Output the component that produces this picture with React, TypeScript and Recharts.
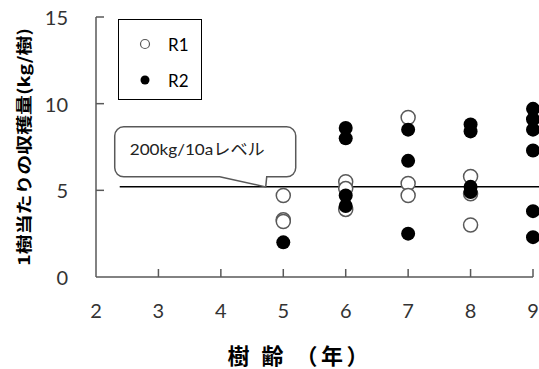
import React from "react";
import {
  ScatterChart,
  Scatter,
  XAxis,
  YAxis,
  ReferenceLine,
  Legend,
} from "recharts";

// tree age (years) and yield per tree (kg/tree)
const xTicks = [2, 3, 4, 5, 6, 7, 8, 9];
const yTicks = [0, 5, 10, 15];

const r1Age = [5, 5, 5, 6, 6, 6, 7, 7, 7, 8, 8, 8];
const r1Yield = [4.7, 3.3, 3.2, 5.5, 5.1, 3.9, 9.2, 5.4, 4.7, 5.8, 4.8, 3.0];

const r2Age = [5, 6, 6, 6, 6, 7, 7, 7, 8, 8, 8, 8, 9, 9, 9, 9, 9, 9];
const r2Yield = [2.0, 8.6, 8.0, 4.7, 4.1, 8.5, 6.7, 2.5, 8.8, 8.4, 5.2, 4.9, 9.7, 9.1, 8.5, 7.3, 3.8, 2.3];

const levelY = 5.2;
const levelStart = 2.38;
const levelEnd = 9.1;
const levelText = "200kg/10aレベル";

const r1Data = r1Age.map((x, i) => ({ x, y: r1Yield[i] }));
const r2Data = r2Age.map((x, i) => ({ x, y: r2Yield[i] }));

const AXIS = "#595959";
const LATIN = "Lato, 'Noto Sans CJK JP', sans-serif";
const CJK = "'Noto Sans CJK JP', sans-serif";

const XTick = (props: any) => {
  const { x, y, payload } = props;
  return (
    <g>
      {payload.value !== 2 && <line x1={x} x2={x} y1={y} y2={y - 8} stroke={AXIS} strokeWidth={1.5} />}
      <text x={x} y={y + 33} textAnchor="middle" dominantBaseline="central" fontSize={20} fontFamily={LATIN} fill="#333">
        {payload.value}
      </text>
    </g>
  );
};

const YTick = (props: any) => {
  const { x, y, payload } = props;
  return (
    <g>
      {payload.value !== 0 && <line x1={x} x2={x + 8} y1={y} y2={y} stroke={AXIS} strokeWidth={1.5} />}
      <text x={x - 28} y={y} textAnchor="end" dominantBaseline="central" fontSize={20} fontFamily={LATIN} fill="#333">
        {payload.value}
      </text>
    </g>
  );
};

const YTitle = (props: any) => {
  const { viewBox } = props;
  const cx = viewBox.x + 23;
  const cy = viewBox.y + viewBox.height / 2;
  return (
    <text
      x={cx}
      y={cy}
      transform={`rotate(-90 ${cx} ${cy})`}
      textAnchor="middle"
      dominantBaseline="central"
      fontSize={16}
      fontWeight="bold"
      fontFamily={CJK}
      fill="#000"
      textLength={238}
      lengthAdjust="spacingAndGlyphs"
    >
      1樹当たりの収穫量(kg/樹)
    </text>
  );
};

const XTitle = (props: any) => {
  const { viewBox } = props;
  return (
    <text
      x={viewBox.x + viewBox.width / 2 - 87}
      y={viewBox.y + 77}
      textAnchor="start"
      dominantBaseline="central"
      fontSize={22}
      fontWeight="bold"
      fontFamily={CJK}
      fill="#000"
      textLength={141}
      lengthAdjust="spacing"
    >
      樹 齢 （年）
    </text>
  );
};

const Callout = (props: any) => {
  const { viewBox } = props;
  const lx = viewBox.x;
  const ly = viewBox.y;
  const left = lx - 5;
  const right = lx + 176;
  const top = ly - 60;
  const bottom = ly - 10;
  const r = 9;
  const d = [
    `M${left + r},${top}`,
    `H${right - r}`,
    `A${r},${r} 0 0 1 ${right},${top + r}`,
    `V${bottom - r}`,
    `A${r},${r} 0 0 1 ${right - r},${bottom}`,
    `H${lx + 147}`,
    `L${lx + 146},${ly}`,
    `L${lx + 100},${bottom}`,
    `H${left + r}`,
    `A${r},${r} 0 0 1 ${left},${bottom - r}`,
    `V${top + r}`,
    `A${r},${r} 0 0 1 ${left + r},${top}`,
    "Z",
  ].join(" ");
  return (
    <g>
      <path d={d} fill="#fff" stroke={AXIS} strokeWidth={1.5} />
      <text
        x={lx + 10}
        y={ly - 38}
        dominantBaseline="central"
        fontSize={16}
        fontFamily={LATIN}
        fill="#222"
        textLength={135}
        lengthAdjust="spacingAndGlyphs"
      >
        {levelText}
      </text>
    </g>
  );
};

const LegendBox = () => (
  <svg width={85} height={82} style={{ display: "block" }}>
    <rect x={0.5} y={0.5} width={83} height={80} fill="#fff" stroke="#000" strokeWidth={1} />
    <circle cx={27} cy={25} r={4.5} fill="#fff" stroke={AXIS} strokeWidth={1.2} />
    <text x={50} y={25} dominantBaseline="central" fontSize={17} fontFamily={LATIN} fill="#000">R1</text>
    <circle cx={27} cy={61} r={4.5} fill="#000" />
    <text x={50} y={61} dominantBaseline="central" fontSize={17} fontFamily={LATIN} fill="#000">R2</text>
  </svg>
);

const OpenDot = (props: any) => (
  <circle cx={props.cx} cy={props.cy} r={7} fill="#fff" stroke={AXIS} strokeWidth={1.5} />
);

const FilledDot = (props: any) => <circle cx={props.cx} cy={props.cy} r={7} fill="#000" />;

export default function App() {
  return (
    <div style={{ position: "fixed", left: 0, top: 0, background: "#fff" }}>
      <ScatterChart width={539} height={369} margin={{ top: 17, right: 6, bottom: 0, left: 0 }}>
        <XAxis
          type="number"
          dataKey="x"
          domain={[2, 9]}
          ticks={xTicks}
          interval={0}
          height={92}
          tickSize={0}
          tickMargin={0}
          tickLine={false}
          tick={<XTick />}
          axisLine={{ stroke: AXIS, strokeWidth: 1.5 }}
          label={<XTitle />}
        />
        <YAxis
          type="number"
          dataKey="y"
          domain={[0, 15]}
          ticks={yTicks}
          interval={0}
          width={96}
          tickSize={0}
          tickMargin={0}
          tickLine={false}
          tick={<YTick />}
          axisLine={{ stroke: AXIS, strokeWidth: 1.5 }}
          label={<YTitle />}
        />
        <Legend
          layout="horizontal"
          verticalAlign="middle"
          align="center"
          wrapperStyle={{ left: 118, top: 19, width: 85, height: 82 }}
          content={<LegendBox />}
        />
        <ReferenceLine
          segment={[
            { x: levelStart, y: levelY },
            { x: levelEnd, y: levelY },
          ]}
          ifOverflow="visible"
          stroke="#000"
          strokeWidth={1.5}
          label={<Callout />}
        />
        <Scatter name="R1" data={r1Data} shape={<OpenDot />} isAnimationActive={false} />
        <Scatter name="R2" data={r2Data} shape={<FilledDot />} isAnimationActive={false} />
      </ScatterChart>
    </div>
  );
}
